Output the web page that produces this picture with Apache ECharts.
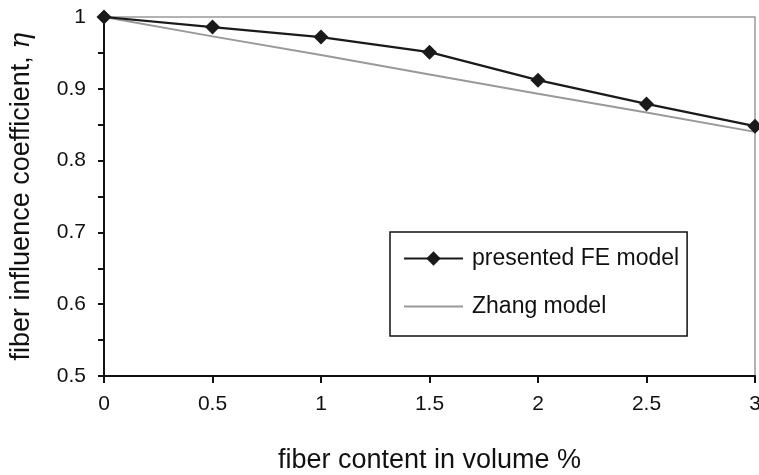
<!DOCTYPE html>
<html><head><meta charset="utf-8">
<script src="https://cdn.jsdelivr.net/npm/echarts@6/dist/echarts.min.js"></script>
<style>html,body{margin:0;padding:0;background:#fff}#c{width:759px;height:475px}</style>
</head><body><div id="c"></div>
<script>
var xValues = [0, 0.5, 1, 1.5, 2, 2.5, 3];
var feModel = [1, 0.986, 0.972, 0.951, 0.912, 0.879, 0.848];
var zhangModel = [1, 0.973, 0.947, 0.92, 0.893, 0.867, 0.84];
var seriesNames = ['presented FE model', 'Zhang model'];
var xTitle = 'fiber content in volume %';
var yTitle = 'fiber influence coefficient, ';

var font = '"Liberation Sans", Arial, sans-serif';
var chart = echarts.init(document.getElementById('c'));
function pairs(vals){ return xValues.map(function(x,i){return [x, vals[i]];}); }
var lineIcon = 'path://M0,0L0.01,0L0.01,0.01Z M0,8L59,8L59,10L0,10Z M0,17.99L0.01,17.99L0.01,18Z';
chart.setOption({
  animation: false,
  textStyle: {fontFamily: font},
  grid: {left: 104, right: 4, top: 17, bottom: 99, containLabel: false, outerBoundsMode: 'none',
    show: true, borderColor: '#999', borderWidth: 1.5, backgroundColor: 'transparent'},
  legend: {
    orient: 'vertical', left: 390, top: 232,
    padding: [15, 8, 18, 13], itemGap: 25, itemWidth: 59, itemHeight: 18,
    borderColor: '#111', borderWidth: 1.5,
    textStyle: {fontSize: 23, color: '#111', fontFamily: font, padding: [0, 0, 0, 4]},
    data: [{name: seriesNames[0]}, {name: seriesNames[1], icon: lineIcon, itemStyle: {color: '#999'}}]
  },
  xAxis: {
    type: 'value', min: 0, max: 3, interval: 0.5,
    name: xTitle, nameLocation: 'middle', nameGap: 71,
    nameTextStyle: {fontSize: 27, color: '#111', fontFamily: font},
    axisLine: {lineStyle: {color: '#111', width: 2}},
    axisTick: {show: true, length: 7, lineStyle: {color: '#111', width: 2}},
    axisLabel: {fontSize: 21, color: '#111', margin: 18, fontFamily: font},
    splitLine: {show: false}
  },
  yAxis: {
    type: 'value', min: 0.5, max: 1, interval: 0.1,
    name: yTitle + '{e|η}', nameLocation: 'middle', nameGap: 69,
    nameTextStyle: {fontSize: 27, color: '#111', fontFamily: font, rich: {e: {fontSize: 27, fontStyle: 'italic', fontFamily: '"DejaVu Serif", serif', color: '#111'}}},
    axisLine: {show: true, lineStyle: {color: '#111', width: 2}},
    axisTick: {show: true, length: 6, lineStyle: {color: '#111', width: 2}},
    minorTick: {show: true, splitNumber: 2, length: 6, lineStyle: {color: '#111', width: 2}},
    axisLabel: {fontSize: 21, color: '#111', margin: 18, fontFamily: font,
      formatter: function(v){ return v === 1 ? '1' : v.toFixed(1); }},
    splitLine: {show: false}
  },
  series: [
    {name: seriesNames[1], type: 'line', data: pairs(zhangModel), symbol: 'none',
      lineStyle: {color: '#999', width: 2}, itemStyle: {color: '#999'}, z: 2},
    {name: seriesNames[0], type: 'line', data: pairs(feModel), symbol: 'diamond', symbolSize: 15,
      lineStyle: {color: '#1a1a1a', width: 2.2}, itemStyle: {color: '#1a1a1a'}, z: 3}
  ]
});
</script></body></html>
